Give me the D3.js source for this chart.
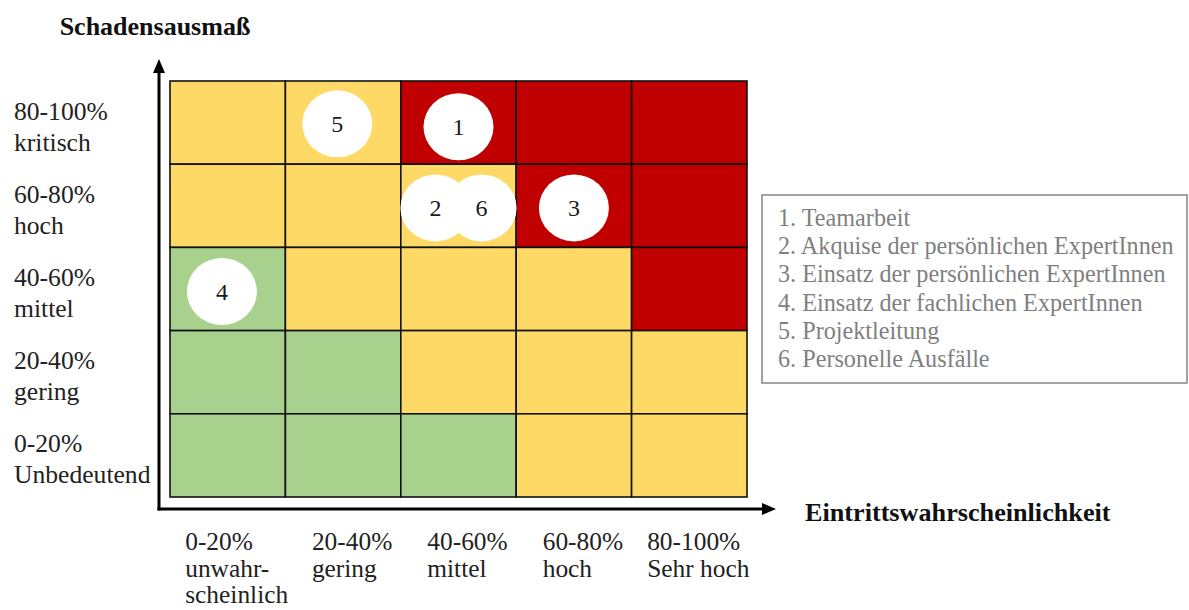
<!DOCTYPE html>
<html>
<head>
<meta charset="utf-8">
<script src="https://cdn.jsdelivr.net/npm/d3@7"></script>
<style>
  html, body { margin: 0; padding: 0; background: #fff; }
  svg { display: block; }
  text { font-family: "Liberation Serif", "Times New Roman", serif; }
</style>
</head>
<body>
<svg id="chart" width="1189" height="610"></svg>
<script>
// Probability classes (x) and impact classes (y, top to bottom)
const probabilityClasses = ["0-20%", "20-40%", "40-60%", "60-80%", "80-100%"];
const probabilityLabels = [
  ["0-20%", "unwahr-", "scheinlich"],
  ["20-40%", "gering"],
  ["40-60%", "mittel"],
  ["60-80%", "hoch"],
  ["80-100%", "Sehr hoch"]
];
const impactClasses = ["80-100%", "60-80%", "40-60%", "20-40%", "0-20%"];
const impactLabels = [
  ["80-100%", "kritisch"],
  ["60-80%", "hoch"],
  ["40-60%", "mittel"],
  ["20-40%", "gering"],
  ["0-20%", "Unbedeutend"]
];

// Risk level of every cell, rows from top (kritisch) to bottom (unbedeutend)
const riskLevels = [
  ["mittel", "mittel", "hoch",   "hoch",   "hoch"],
  ["mittel", "mittel", "mittel", "hoch",   "hoch"],
  ["gering", "mittel", "mittel", "mittel", "hoch"],
  ["gering", "gering", "mittel", "mittel", "mittel"],
  ["gering", "gering", "gering", "mittel", "mittel"]
];

// Individual risks: probability and impact in percent
const riskIds = [1, 2, 3, 4, 5, 6];
const riskNames = [
  "Teamarbeit",
  "Akquise der persönlichen ExpertInnen",
  "Einsatz der persönlichen ExpertInnen",
  "Einsatz der fachlichen ExpertInnen",
  "Projektleitung",
  "Personelle Ausfälle"
];
const riskProbability = [50, 46, 70, 9, 29, 54];
const riskImpact = [89, 69.5, 69.5, 49.4, 89.7, 69.5];

const svg = d3.select("#chart");

const grid = { left: 170, right: 747, top: 81, bottom: 497 };

const xBand = d3.scaleBand().domain(probabilityClasses).range([grid.left, grid.right]);
const yBand = d3.scaleBand().domain(impactClasses).range([grid.top, grid.bottom]);
const xPct = d3.scaleLinear().domain([0, 100]).range([grid.left, grid.right]);
const yPct = d3.scaleLinear().domain([0, 100]).range([grid.bottom, grid.top]);
const levelColor = d3.scaleOrdinal()
  .domain(["gering", "mittel", "hoch"])
  .range(["#a9d18e", "#ffd966", "#c00000"]);

// Cells
const cells = [];
riskLevels.forEach((row, r) => row.forEach((lvl, c) => {
  cells.push({ p: probabilityClasses[c], i: impactClasses[r], level: lvl });
}));
svg.append("g").selectAll("rect").data(cells).join("rect")
  .attr("x", d => xBand(d.p))
  .attr("y", d => yBand(d.i))
  .attr("width", xBand.bandwidth())
  .attr("height", yBand.bandwidth())
  .attr("fill", d => levelColor(d.level))
  .attr("stroke", "#111")
  .attr("stroke-width", 1.6);

// Risk markers
const risks = riskIds.map((id, k) => ({ id, p: riskProbability[k], i: riskImpact[k] }));
const markers = svg.append("g").selectAll("g").data(risks).join("g")
  .attr("transform", d => `translate(${xPct(d.p)},${yPct(d.i)})`);
markers.append("ellipse")
  .attr("rx", 35).attr("ry", 33.5)
  .attr("fill", "#fff");
markers.append("text")
  .attr("text-anchor", "middle")
  .attr("dy", "0.35em")
  .attr("font-size", 24)
  .attr("fill", "#1a1a1a")
  .text(d => d.id);

// Axes with arrow heads
const axisX = 159, axisY = 509;
const ax = svg.append("g").attr("fill", "#000");
ax.append("line")
  .attr("x1", axisX).attr("y1", axisY + 1.5)
  .attr("x2", axisX).attr("y2", 70)
  .attr("stroke", "#000").attr("stroke-width", 3);
ax.append("path").attr("d", `M${axisX},59 L${axisX - 6},73 L${axisX + 6},73 Z`);
ax.append("line")
  .attr("x1", axisX - 1.5).attr("y1", axisY)
  .attr("x2", 765).attr("y2", axisY)
  .attr("stroke", "#000").attr("stroke-width", 3);
ax.append("path").attr("d", `M776,${axisY} L762,${axisY - 6} L762,${axisY + 6} Z`);

// Axis titles
svg.append("text")
  .attr("x", 155).attr("y", 35)
  .attr("text-anchor", "middle")
  .attr("font-size", 26).attr("font-weight", "bold")
  .attr("fill", "#111")
  .text("Schadensausmaß");
svg.append("text")
  .attr("x", 805).attr("y", 521)
  .attr("font-size", 26.2).attr("font-weight", "bold")
  .attr("fill", "#111")
  .text("Eintrittswahrscheinlichkeit");

// Impact class labels
const yLab = svg.append("g").selectAll("text").data(impactClasses).join("text")
  .attr("x", 14)
  .attr("y", d => yBand(d) + yBand.bandwidth() / 2 - 3)
  .attr("font-size", 25.6)
  .attr("fill", "#222");
yLab.selectAll("tspan").data((d, k) => impactLabels[k]).join("tspan")
  .attr("x", 14)
  .attr("dy", (d, j) => j === 0 ? 0 : 31)
  .text(d => d);

// Probability class labels: blocks of left-aligned lines, centred under the column
const xLab = svg.append("g").selectAll("text").data(probabilityClasses).join("text")
  .attr("y", 550)
  .attr("font-size", 25.4)
  .attr("fill", "#222");
xLab.selectAll("tspan").data((d, k) => probabilityLabels[k]).join("tspan")
  .attr("dy", (d, j) => j === 0 ? 0 : 26.5)
  .text(d => d);
xLab.each(function (d) {
  const t = d3.select(this);
  const w = d3.max(t.selectAll("tspan").nodes(), n => n.getComputedTextLength());
  const x0 = xBand(d) + xBand.bandwidth() / 2 + 9 - w / 2;
  t.selectAll("tspan").attr("x", x0);
});

// Legend
const legend = svg.append("g");
legend.append("rect")
  .attr("x", 762).attr("y", 195)
  .attr("width", 425).attr("height", 188)
  .attr("fill", "#fff")
  .attr("stroke", "#8c8c8c").attr("stroke-width", 1.6);
legend.selectAll("text").data(riskIds).join("text")
  .attr("x", 778)
  .attr("y", (d, k) => 226 + k * 28.2)
  .attr("font-size", 24.2)
  .attr("fill", "#7f7f7f")
  .text((d, k) => `${d}. ${riskNames[k]}`);
</script>
</body>
</html>
